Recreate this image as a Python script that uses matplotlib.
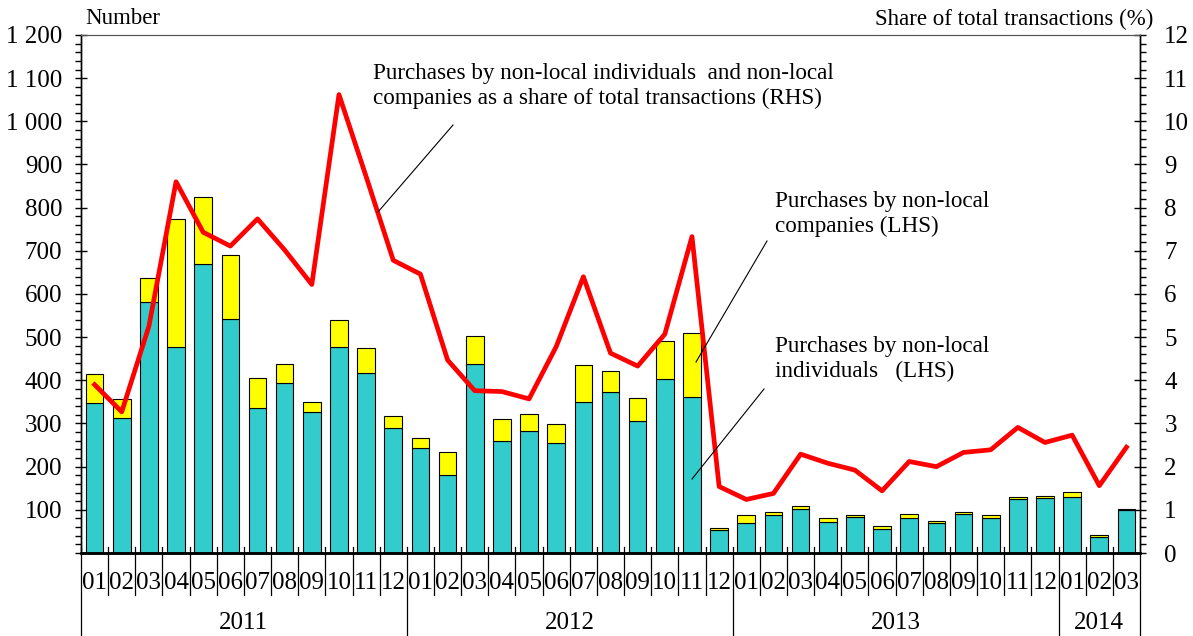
import matplotlib.pyplot as plt
from matplotlib.ticker import MultipleLocator, FuncFormatter

plt.rcParams['font.family'] = ['Liberation Serif', 'DejaVu Serif']

# months 2011-01 .. 2014-03
months = ['01', '02', '03', '04', '05', '06', '07', '08', '09', '10', '11', '12'] * 3 + ['01', '02', '03']
years = ['2011', '2012', '2013', '2014']

# purchases by non-local individuals (LHS)
individuals = [347, 313, 581, 478, 670, 542, 336, 394, 327, 478, 417, 290,
               243, 181, 438, 259, 283, 254, 350, 373, 306, 403, 361, 53,
               70, 88, 102, 71, 84, 55, 80, 70, 90, 82, 125, 128,
               129, 38, 99]
# total (individuals + companies)
total = [415, 356, 637, 773, 825, 690, 405, 438, 350, 539, 476, 318,
         266, 234, 502, 310, 322, 298, 435, 421, 359, 490, 510, 59,
         88, 95, 109, 80, 88, 62, 91, 74, 94, 88, 129, 132,
         141, 42, 103]
companies = [t - i for t, i in zip(total, individuals)]

# share of total transactions, % (RHS)
share = [3.90, 3.27, 5.25, 8.60, 7.43, 7.11, 7.74, 7.02, 6.22, 10.62, 8.72, 6.78,
         6.46, 4.47, 3.76, 3.74, 3.57, 4.78, 6.40, 4.63, 4.33, 5.07, 7.33, 1.54,
         1.24, 1.38, 2.29, 2.08, 1.92, 1.44, 2.12, 2.00, 2.33, 2.39, 2.91, 2.56,
         2.73, 1.56, 2.45]

x = list(range(len(months)))

fig = plt.figure(figsize=(11.93, 6.36), dpi=100)
ax = fig.add_axes([0.0679, 0.1305, 0.8877, 0.8145])

ax.bar(x, individuals, width=0.65, color='#33CCCC', edgecolor='black', linewidth=0.8, zorder=2)
ax.bar(x, companies, width=0.65, bottom=individuals, color='#FFFF00', edgecolor='black', linewidth=0.8, zorder=2)

ax.set_xlim(-0.5, len(x) - 0.5)
ax.set_ylim(0, 1200)
ax.yaxis.set_major_locator(MultipleLocator(100))
ax.yaxis.set_minor_locator(MultipleLocator(20))
ax.yaxis.set_major_formatter(FuncFormatter(lambda v, p: f'{int(v):,}'.replace(',', ' ') if v > 0 else ''))
ax.tick_params(axis='y', which='major', direction='inout', length=9, width=1, labelsize=18, pad=9)
ax.tick_params(axis='y', which='minor', direction='out', length=4, width=1)
ax.set_xticks([])

ax2 = ax.twinx()
ax2.plot(x, share, color='#FF0000', linewidth=3.4, zorder=5)
ax2.set_ylim(0, 12)
ax2.yaxis.set_major_locator(MultipleLocator(1))
ax2.yaxis.set_minor_locator(MultipleLocator(0.2))
ax2.tick_params(axis='y', which='major', direction='inout', length=9, width=1, labelsize=18, pad=13)
ax2.tick_params(axis='y', which='minor', direction='out', length=4, width=1)

for a in (ax, ax2):
    a.spines['top'].set_color('#555555')
    a.spines['bottom'].set_linewidth(1.8)
    a.spines['left'].set_linewidth(1.0)
    a.spines['right'].set_linewidth(1.0)

# month labels and separators below the axis
tr = ax.get_xaxis_transform()
for i, m in enumerate(months):
    ax.text(i, -0.058, m, transform=tr, ha='center', va='center', fontsize=18)
    if i > 0 and m != '01':
        ax.plot([i - 0.5, i - 0.5], [0.012, -0.081], transform=tr, color='black', lw=0.9, clip_on=False)

# year separators and labels
starts = [i for i, m in enumerate(months) if m == '01'] + [len(months)]
for k, yr in enumerate(years):
    s, e = starts[k], starts[k + 1]
    ax.plot([s - 0.5, s - 0.5], [0.012, -0.165], transform=tr, color='black', lw=0.9, clip_on=False)
    ax.text((s + e - 1) / 2, -0.135, yr, transform=tr, ha='center', va='center', fontsize=18)
ax.plot([len(months) - 0.5] * 2, [0, -0.165], transform=tr, color='black', lw=0.9, clip_on=False)

# axis titles
fig.text(85 / 1193, 1 - 19 / 636, 'Number', ha='left', va='center', fontsize=16.5)
fig.text(1153 / 1193, 1 - 19 / 636, 'Share of total transactions (%)', ha='right', va='center', fontsize=16.5)

# annotations
def px(xp, yp):
    return (xp / 1193, 1 - yp / 636)

fig.text(*px(373, 86), 'Purchases by non-local individuals  and non-local\ncompanies as a share of total transactions (RHS)',
         ha='left', va='center', fontsize=16.7, linespacing=1.25)
fig.text(*px(775, 214), 'Purchases by non-local\ncompanies (LHS)',
         ha='left', va='center', fontsize=16.7, linespacing=1.25)
fig.text(*px(775, 359), 'Purchases by non-local\nindividuals   (LHS)',
         ha='left', va='center', fontsize=16.7, linespacing=1.25)

for (x0, y0), (x1, y1) in [((453, 125), (378, 212)), ((767, 241), (696, 362)), ((764, 389), (692, 479))]:
    a0, b0 = px(x0, y0)
    a1, b1 = px(x1, y1)
    fig.add_artist(plt.Line2D([a0, a1], [b0, b1], color='black', lw=0.8, zorder=10))

fig.savefig('out.png', dpi=100)
